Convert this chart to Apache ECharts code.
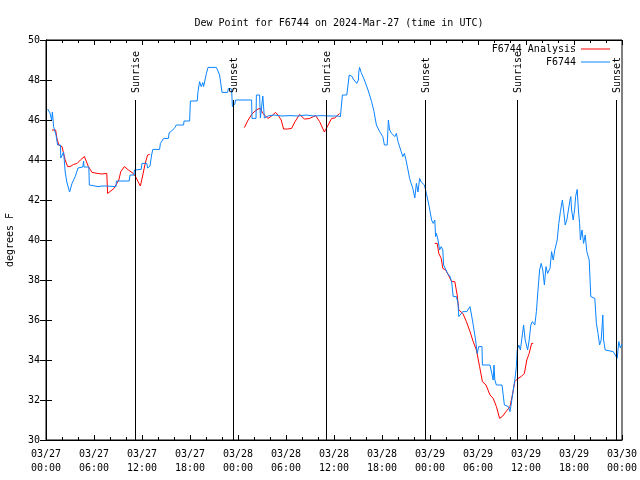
<!DOCTYPE html>
<html>
<head>
<meta charset="utf-8">
<script src="https://cdn.jsdelivr.net/npm/echarts@6/dist/echarts.min.js"></script>
<style>html,body{margin:0;padding:0;background:#fff;}#c{width:640px;height:480px;}</style>
</head>
<body>
<div id="c"></div>
<script>
// hours since 2024-03-27 00:00 UTC, dew point in °F
const xTickLabels = ['03/27\n00:00','03/27\n06:00','03/27\n12:00','03/27\n18:00','03/28\n00:00','03/28\n06:00','03/28\n12:00','03/28\n18:00','03/29\n00:00','03/29\n06:00','03/29\n12:00','03/29\n18:00','03/30\n00:00'];
const sunEventHours = [11.17, 23.4, 35.05, 47.4, 58.9, 71.3];
const sunEventLabels = ['Sunrise','Sunset','Sunrise','Sunset','Sunrise','Sunset'];

const analysisDay1 = [[0.75,45.5],[1.2,45.5],[1.37,45.08],[1.6,44.75],[2.0,44.67],[2.2,44.33],[2.4,44.0],[2.7,43.67],[3.0,43.67],[3.46,43.78],[3.9,43.83],[4.3,44.0],[4.8,44.17],[5.0,44.08],[5.3,43.67],[5.75,43.38],[6.4,43.33],[7.0,43.3],[7.6,43.33],[7.7,42.33],[8.0,42.42],[8.5,42.58],[9.1,43.0],[9.35,43.42],[9.8,43.67],[10.3,43.5],[10.9,43.33],[11.2,43.17],[11.5,42.92],[11.8,42.7],[12.1,43.25],[12.4,43.83],[12.7,44.25],[12.96,44.28]];
const analysisDay2 = [[24.8,45.62],[25.2,45.95],[25.7,46.28],[26.0,46.4],[26.5,46.55],[26.8,46.58],[27.1,46.33],[27.75,46.08],[28.2,46.2],[28.7,46.38],[29.0,46.25],[29.4,46.0],[29.7,45.55],[30.2,45.55],[30.7,45.58],[31.1,45.9],[31.7,46.28],[32.3,46.05],[32.9,46.07],[33.7,46.22],[34.2,45.92],[34.8,45.4],[35.2,45.7],[35.7,46.08],[36.1,46.1],[36.7,46.33]];
const analysisDay3 = [[48.6,39.83],[48.9,39.83],[49.1,39.33],[49.4,39.08],[49.6,38.58],[49.95,38.5],[50.3,38.25],[50.7,37.92],[51.1,37.92],[51.4,37.25],[51.6,36.5],[52.1,36.33],[52.55,35.92],[53.0,35.42],[53.4,34.92],[53.8,34.5],[54.2,33.67],[54.55,32.92],[55.0,32.75],[55.5,32.25],[55.9,32.08],[56.3,31.67],[56.7,31.08],[57.1,31.2],[57.5,31.42],[58.0,31.67],[58.3,32.25],[58.6,32.92],[59.0,33.08],[59.4,33.17],[59.8,33.33],[60.1,34.0],[60.4,34.33],[60.7,34.83],[60.9,34.83]];

const obsF6744 = [[0.2,46.55],[0.5,46.35],[0.7,46.0],[0.8,46.4],[0.95,45.67],[1.25,45.25],[1.45,44.75],[1.8,44.75],[1.85,44.1],[2.1,44.1],[2.2,44.4],[2.3,43.9],[2.4,43.4],[2.6,42.9],[2.95,42.4],[3.25,42.83],[3.65,43.17],[4.0,43.6],[4.6,43.65],[4.7,43.95],[4.75,43.65],[5.35,43.65],[5.42,42.75],[5.5,42.67],[6.5,42.67],[7.0,42.7],[7.5,42.7],[8.75,42.67],[8.8,42.95],[10.4,42.95],[10.5,43.25],[11.0,43.25],[11.05,43.5],[11.9,43.53],[12.0,43.83],[12.6,43.83],[12.7,43.6],[12.9,43.5],[13.0,43.7],[13.2,44.25],[13.35,44.53],[14.2,44.53],[14.3,44.83],[14.5,44.95],[14.7,45.08],[15.3,45.08],[15.4,45.37],[15.7,45.45],[16.1,45.62],[16.3,45.75],[17.2,45.75],[17.25,45.95],[17.95,45.95],[18.05,46.95],[18.9,46.95],[19.0,47.42],[19.2,47.92],[19.4,47.67],[19.6,47.87],[19.7,47.67],[19.9,47.67],[20.05,48.33],[20.25,48.63],[21.3,48.63],[21.5,48.45],[21.7,48.25],[22.0,47.38],[22.7,47.38],[22.8,47.58],[23.2,47.55],[23.3,46.67],[23.6,46.8],[23.7,47.0],[25.7,47.0],[25.75,46.08],[26.25,46.08],[26.3,47.25],[26.7,47.25],[26.8,46.1],[27.0,46.1],[27.1,47.2],[27.2,47.1],[27.3,46.1],[27.75,46.2],[28.5,46.25],[29.5,46.2],[30.5,46.22],[31.5,46.2],[32.5,46.25],[33.5,46.2],[34.5,46.22],[35.5,46.2],[36.5,46.2],[36.8,46.17],[37.05,47.25],[37.6,47.25],[37.75,47.75],[37.9,48.25],[38.2,48.2],[38.5,48.0],[38.7,48.0],[38.85,47.83],[39.05,48.0],[39.1,48.4],[39.2,48.63],[39.4,48.37],[39.8,48.0],[40.25,47.5],[40.7,46.92],[41.0,46.42],[41.3,45.75],[41.7,45.42],[42.1,45.17],[42.3,44.75],[42.65,44.75],[42.8,46.0],[42.95,45.5],[43.2,45.33],[43.4,45.42],[43.6,45.17],[43.8,45.33],[44.0,44.92],[44.4,44.42],[44.6,44.17],[44.8,44.33],[45.0,44.0],[45.25,43.5],[45.45,43.08],[45.65,42.83],[45.85,42.58],[46.1,42.1],[46.3,42.83],[46.5,42.4],[46.7,43.08],[46.9,42.9],[47.1,42.83],[47.3,42.75],[47.5,42.75],[47.55,42.33],[47.9,41.67],[48.2,41.0],[48.4,40.83],[48.6,41.0],[48.7,40.17],[48.8,40.33],[49.0,40.0],[49.2,39.5],[49.4,39.67],[49.6,39.5],[49.7,38.75],[50.0,38.5],[50.2,38.33],[50.5,38.17],[50.7,37.92],[50.9,37.17],[51.3,37.17],[51.5,36.83],[51.6,36.17],[52.1,36.42],[52.6,36.42],[53.0,36.67],[53.2,36.67],[53.3,36.0],[53.7,35.0],[53.9,34.33],[54.1,34.67],[54.5,34.67],[54.55,33.75],[55.5,33.75],[55.7,33.67],[55.9,33.0],[56.0,33.75],[56.1,33.0],[56.3,32.75],[57.0,32.75],[57.2,32.67],[57.3,31.75],[57.8,31.67],[58.0,31.42],[58.1,31.67],[58.35,32.33],[58.6,33.0],[58.8,33.67],[58.9,34.5],[59.1,34.75],[59.3,34.5],[59.7,35.75],[59.9,35.0],[60.2,34.5],[60.4,35.0],[60.6,35.75],[60.8,35.92],[61.1,35.75],[61.3,36.42],[61.5,37.5],[61.7,38.5],[61.9,38.83],[62.1,38.5],[62.3,37.75],[62.5,38.67],[62.7,38.33],[63.0,38.58],[63.2,39.42],[63.4,39.0],[63.6,39.5],[63.9,40.0],[64.1,40.83],[64.3,41.42],[64.55,42.0],[64.7,41.5],[64.9,40.75],[65.1,41.0],[65.3,41.5],[65.5,42.0],[65.6,42.17],[65.7,41.5],[65.9,41.0],[66.1,41.6],[66.2,42.17],[66.4,42.53],[66.55,41.5],[66.7,40.83],[66.8,40.0],[67.0,40.5],[67.2,39.83],[67.4,40.25],[67.6,39.42],[67.9,39.0],[68.1,37.17],[68.6,37.08],[68.8,35.83],[69.0,35.33],[69.2,34.75],[69.4,35.0],[69.6,36.25],[69.7,35.0],[69.9,34.5],[70.9,34.42],[71.1,34.33],[71.4,34.08],[71.6,34.92],[71.8,34.6],[72.0,34.8]];

const FONT = 'DejaVu Sans Mono';
const analysisData = [].concat(analysisDay1, [[18,'-']], analysisDay2, [[42,'-']], analysisDay3);

const chart = echarts.init(document.getElementById('c'), null, {renderer: 'canvas'});
const xCommon = {
  type: 'value', min: 0, max: 72, interval: 6,
  axisLine: {show: true, lineStyle: {color: '#000', width: 1}},
  axisTick: {show: true, inside: true, length: 5, lineStyle: {color: '#000'}},
  minorTick: {show: true, splitNumber: 3, length: 3, lineStyle: {color: '#000'}},
  splitLine: {show: false}
};
const yCommon = {
  type: 'value', min: 30, max: 50, interval: 2,
  axisLine: {show: true, lineStyle: {color: '#000', width: 1}},
  axisTick: {show: true, inside: true, length: 6, lineStyle: {color: '#000'}},
  splitLine: {show: false}
};
const legendCommon = {
  right: 30, orient: 'horizontal', align: 'right', padding: 0,
  icon: 'rect', itemWidth: 29, itemHeight: 1, itemGap: 0,
  textStyle: {fontFamily: FONT, fontSize: 10, color: '#000', lineHeight: 12, padding: [0,0,0,0]},
  selectedMode: false
};
chart.setOption({
  animation: false,
  backgroundColor: '#fff',
  title: {
    text: 'Dew Point for F6744 on 2024-Mar-27 (time in UTC)',
    left: 334, top: 13, textAlign: 'center',
    textStyle: {fontFamily: FONT, fontSize: 10, fontWeight: 'normal', color: '#000'}
  },
  legend: [
    Object.assign({}, legendCommon, {top: 43, data: ['F6744 Analysis']}),
    Object.assign({}, legendCommon, {top: 56, data: ['F6744']})
  ],
  grid: {left: 46, right: 18, top: 40, bottom: 40, containLabel: false, outerBoundsMode: 'none',
    show: true, borderColor: '#000', borderWidth: 1, backgroundColor: 'transparent'},
  xAxis: [
    Object.assign({}, xCommon, {
      position: 'bottom',
      axisLabel: {show: true, margin: 7, fontFamily: FONT, fontSize: 10, color: '#000', lineHeight: 14,
        formatter: function (v) { return xTickLabels[Math.round(v / 6)] || ''; }}
    }),
    Object.assign({}, xCommon, {position: 'top', axisLabel: {show: false}})
  ],
  yAxis: [
    Object.assign({}, yCommon, {
      position: 'left',
      name: 'degrees F', nameLocation: 'middle', nameGap: 31, nameRotate: 90,
      nameTextStyle: {fontFamily: FONT, fontSize: 10, color: '#000'},
      axisLabel: {show: true, margin: 6, fontFamily: FONT, fontSize: 10, color: '#000'}
    }),
    Object.assign({}, yCommon, {position: 'right', axisLabel: {show: false}})
  ],
  series: [
    {
      name: 'F6744 Analysis', type: 'line', data: analysisData,
      xAxisIndex: 0, yAxisIndex: 0,
      showSymbol: false, symbol: 'none', connectNulls: false,
      itemStyle: {color: '#ff0000'},
      lineStyle: {color: '#ff0000', width: 1}, z: 3
    },
    {
      name: 'F6744', type: 'line', data: obsF6744,
      xAxisIndex: 0, yAxisIndex: 0,
      showSymbol: false, symbol: 'none',
      itemStyle: {color: '#0a84ff'},
      lineStyle: {color: '#0a84ff', width: 1}, z: 4
    },
    {
      name: 'sun', type: 'custom', xAxisIndex: 0, yAxisIndex: 0,
      data: sunEventHours.map(function (h) { return [h, 30]; }),
      encode: {x: 0, y: 1}, z: 5, silent: true,
      renderItem: function (params, api) {
        var h = api.value(0);
        var top = api.coord([h, 47]);
        var bottom = api.coord([h, 30]);
        var px = Math.round(top[0]) + 0.5;
        return {
          type: 'group',
          children: [
            {type: 'line', shape: {x1: px, y1: top[1], x2: px, y2: bottom[1]}, style: {stroke: '#000', lineWidth: 1}},
            {type: 'text', x: px + 1, y: top[1] - 7, rotation: Math.PI / 2,
              style: {text: sunEventLabels[params.dataIndex], fontFamily: FONT, fontSize: 10, fill: '#000',
                align: 'left', verticalAlign: 'middle'}}
          ]
        };
      }
    }
  ]
});
</script>
</body>
</html>
